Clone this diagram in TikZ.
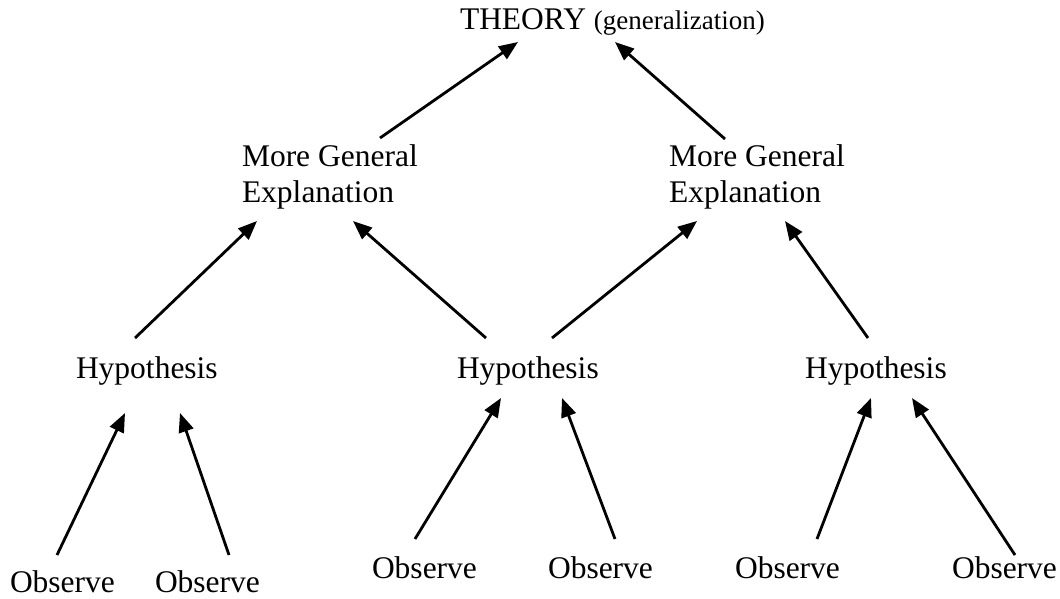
\documentclass[tikz,border=0pt]{standalone}
\usepackage{fontspec}
\setmainfont{Liberation Serif}
\usetikzlibrary{arrows.meta}

\begin{document}
\begin{tikzpicture}[x=1pt,y=-1pt,
    label/.style={inner sep=0pt, outer sep=0pt, anchor=base west,
                  font=\fontsize{31.5}{36}\selectfont, align=left},
    uparrow/.style={line width=2.8pt, -{Triangle[length=19pt,width=15pt]}}]
  \useasboundingbox (0,0) rectangle (1060,598);

  % texts (two-line labels are anchored at the baseline of their last line)
  \node[label] (theory) at (460,29)
    {THEORY {\fontsize{27}{30}\selectfont (generalization)}};
  \node[label] (mgeL) at (242,202) {More General\\Explanation};
  \node[label] (mgeR) at (669,202) {More General\\Explanation};
  \node[label] (hypL) at (76,378) {Hypothesis};
  \node[label] (hypM) at (457,378) {Hypothesis};
  \node[label] (hypR) at (805,378) {Hypothesis};
  \node[label] (obs1) at (10,592) {Observe};
  \node[label] (obs2) at (155,592) {Observe};
  \node[label] (obs3) at (372,578) {Observe};
  \node[label] (obs4) at (548,578) {Observe};
  \node[label] (obs5) at (735,578) {Observe};
  \node[label] (obs6) at (952,578) {Observe};

  % arrow end points
  \coordinate (mgeLt)  at (380,138);  \coordinate (thL)  at (518,42);
  \coordinate (mgeRt)  at (725,139);  \coordinate (thR)  at (615,42);
  \coordinate (hypLt)  at (135,338);  \coordinate (mgeLa) at (257,221);
  \coordinate (hypMl)  at (486,338);  \coordinate (mgeLb) at (353,221);
  \coordinate (hypMr)  at (552,338);  \coordinate (mgeRa) at (697,221);
  \coordinate (hypRt)  at (868,338);  \coordinate (mgeRb) at (785,221);
  \coordinate (obs1t)  at (57,555);   \coordinate (hypLa) at (125,413);
  \coordinate (obs2t)  at (229,555);  \coordinate (hypLb) at (180,413);
  \coordinate (obs3t)  at (415,539);  \coordinate (hypMa) at (501,398);
  \coordinate (obs4t)  at (615,539);  \coordinate (hypMb) at (562,398);
  \coordinate (obs5t)  at (817,539);  \coordinate (hypRa) at (871,398);
  \coordinate (obs6t)  at (1015,555); \coordinate (hypRb) at (912,398);

  % arrows
  \draw[uparrow] (mgeLt) -- (thL);
  \draw[uparrow] (mgeRt) -- (thR);
  \draw[uparrow] (hypLt) -- (mgeLa);
  \draw[uparrow] (hypMl) -- (mgeLb);
  \draw[uparrow] (hypMr) -- (mgeRa);
  \draw[uparrow] (hypRt) -- (mgeRb);
  \draw[uparrow] (obs1t) -- (hypLa);
  \draw[uparrow] (obs2t) -- (hypLb);
  \draw[uparrow] (obs3t) -- (hypMa);
  \draw[uparrow] (obs4t) -- (hypMb);
  \draw[uparrow] (obs5t) -- (hypRa);
  \draw[uparrow] (obs6t) -- (hypRb);
\end{tikzpicture}
\end{document}
